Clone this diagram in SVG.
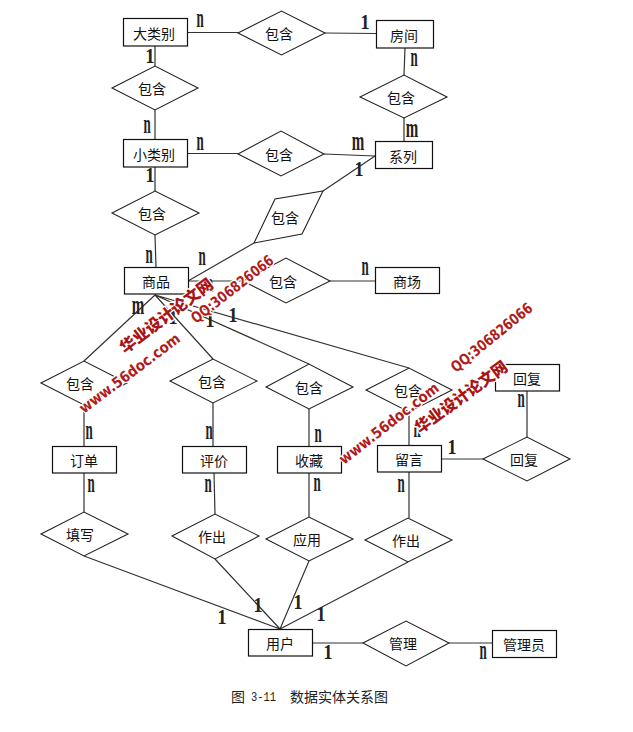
<svg xmlns="http://www.w3.org/2000/svg" width="633" height="732" viewBox="0 0 633 732">
<style>
.b{fill:#fff;stroke:#111;stroke-width:1.2}
.d{fill:#fff;stroke:#222;stroke-width:1.1}
.t{font-family:"Noto Sans CJK SC","Noto Sans CJK JP",sans-serif;font-size:14px;text-anchor:middle;fill:#111}
#connectors path{fill:none;stroke:#333;stroke-width:1.2}
.n,.m,.o{font-family:"Liberation Serif",serif;font-weight:700;fill:#222;font-size:20px;text-anchor:middle}
.w1{font-family:"Noto Sans CJK SC",sans-serif;font-weight:900;font-size:16px;fill:#a81414;stroke:#fff;stroke-width:2.5px;paint-order:stroke}
.w2{font-family:"DejaVu Sans",sans-serif;font-weight:700;font-size:15px;fill:#b01c1c;stroke:#fff;stroke-width:2.5px;paint-order:stroke}
.c{font-family:"Noto Sans CJK SC",sans-serif;font-size:14px;fill:#222}
.c2{font-family:"Liberation Mono",monospace;font-size:13px;fill:#222}
</style>
<rect width="633" height="732" fill="#fff"/>
<g id="connectors">
<path d="M187 32.500H238M325 33L376 33.500"/>
<path d="M155 46V66M155 110V139M155 167V191M155 235L156 267"/>
<path d="M405 48L404 75M404 118V141"/>
<path d="M187 153.500H238M324 154L375 156"/>
<path d="M188 281L254 243M323 191L375 156"/>
<path d="M188 281H247M330 281H375"/>
<path d="M155 295L84 361M155 295L213 359M155 295L309 364M155 295L409 368"/>
<path d="M84 405V447M213 403V447M309 409V447M409 412V446"/>
<path d="M84 473V512M214 473L215 514M309 473V517M409 472V518"/>
<path d="M527 391V437M441 459H483"/>
<path d="M84 556L280 629M215 559L280 629M309 561L280 629M408 562L280 629"/>
<path d="M313 643H363M449 643H492"/>
</g>
<g id="n-dalei"><rect class="b" x="123.500" y="18.500" width="64" height="27.500"/><text class="t" x="154" y="39">大类别</text></g>
<g id="n-fangjian"><rect class="b" x="376.500" y="20.500" width="57" height="27.500"/><text class="t" x="404" y="41">房间</text></g>
<g id="n-xiaolei"><rect class="b" x="123.500" y="139.500" width="64" height="27.500"/><text class="t" x="154" y="160">小类别</text></g>
<g id="n-xilie"><rect class="b" x="375.500" y="141.500" width="57" height="27"/><text class="t" x="403" y="162">系列</text></g>
<g id="n-shangpin"><rect class="b" x="124.500" y="267.500" width="64" height="26.500"/><text class="t" x="156" y="287">商品</text></g>
<g id="n-shangchang"><rect class="b" x="375.500" y="267.500" width="64" height="26"/><text class="t" x="407" y="287">商场</text></g>
<g id="n-dingdan"><rect class="b" x="52.500" y="446.500" width="64" height="26.500"/><text class="t" x="84" y="466">订单</text></g>
<g id="n-pingjia"><rect class="b" x="182.500" y="446.500" width="64" height="26.500"/><text class="t" x="214" y="466">评价</text></g>
<g id="n-shoucang"><rect class="b" x="277.500" y="446.500" width="64" height="26.500"/><text class="t" x="309" y="466">收藏</text></g>
<g id="n-liuyan"><rect class="b" x="377.500" y="445.500" width="64" height="26.500"/><text class="t" x="409" y="465">留言</text></g>
<g id="n-huifu-e"><rect class="b" x="495.500" y="364.500" width="64" height="26.500"/><text class="t" x="527" y="384">回复</text></g>
<g id="n-yonghu"><rect class="b" x="248.500" y="629.500" width="64" height="26.500"/><text class="t" x="280" y="649">用户</text></g>
<g id="n-guanliyuan"><rect class="b" x="492.500" y="630.500" width="64" height="27"/><text class="t" x="524" y="650">管理员</text></g>
<g id="r1"><polygon class="d" points="238,33 281.500,11 325,33 281.500,55"/><text class="t" x="279" y="39">包含</text></g>
<g id="r2"><polygon class="d" points="112,88 155,66 198,88 155,110"/><text class="t" x="152" y="94">包含</text></g>
<g id="r3"><polygon class="d" points="360,97 404,75 447,97 404,118"/><text class="t" x="401" y="103">包含</text></g>
<g id="r4"><polygon class="d" points="238,154 281,131 324,154 281,176"/><text class="t" x="279" y="160">包含</text></g>
<g id="r5"><polygon class="d" points="112,213 155,191 199,213 155,235"/><text class="t" x="152" y="219">包含</text></g>
<g id="r6"><polygon class="d" points="254,243 275,199 323,191 302,234"/><text class="t" x="285" y="223">包含</text></g>
<g id="r7"><polygon class="d" points="243,281 286,258 330,281 286,303"/><text class="t" x="283" y="287">包含</text></g>
<g id="r8"><polygon class="d" points="41,383 84,361 127,383 84,405"/><text class="t" x="80" y="389">包含</text></g>
<g id="r9"><polygon class="d" points="170,381 213,359 257,381 213,403"/><text class="t" x="212" y="387">包含</text></g>
<g id="r10"><polygon class="d" points="266,387 309,364 353,387 309,409"/><text class="t" x="309" y="393">包含</text></g>
<g id="r11"><polygon class="d" points="366,390 409,368 452,390 409,412"/><text class="t" x="408" y="396">包含</text></g>
<g id="r12"><polygon class="d" points="483,459 527,437 570,459 527,481"/><text class="t" x="524" y="465">回复</text></g>
<g id="r13"><polygon class="d" points="41,534 84,512 128,534 84,556"/><text class="t" x="80" y="540">填写</text></g>
<g id="r14"><polygon class="d" points="172,536 215,514 259,536 215,559"/><text class="t" x="212" y="542">作出</text></g>
<g id="r15"><polygon class="d" points="266,539 309,517 353,539 309,561"/><text class="t" x="307" y="545">应用</text></g>
<g id="r16"><polygon class="d" points="365,540 408,518 452,540 408,562"/><text class="t" x="406" y="546">作出</text></g>
<g id="r17"><polygon class="d" points="363,643 406,621 449,643 406,666"/><text class="t" x="403" y="649">管理</text></g>
<g id="cardinalities">
<text class="n" transform="translate(200 27) scale(.65 1.4)">n</text>
<text class="n" transform="translate(414 66) scale(.65 1.4)">n</text>
<text class="n" transform="translate(147 133) scale(.65 1.4)">n</text>
<text class="n" transform="translate(200 150) scale(.65 1.4)">n</text>
<text class="n" transform="translate(149 263) scale(.65 1.4)">n</text>
<text class="n" transform="translate(202 265) scale(.65 1.4)">n</text>
<text class="n" transform="translate(365 275) scale(.65 1.4)">n</text>
<text class="n" transform="translate(89 439) scale(.65 1.4)">n</text>
<text class="n" transform="translate(209 439) scale(.65 1.4)">n</text>
<text class="n" transform="translate(318 442) scale(.65 1.4)">n</text>
<text class="n" transform="translate(417 437) scale(.65 1.4)">n</text>
<text class="n" transform="translate(521 407) scale(.65 1.4)">n</text>
<text class="n" transform="translate(91 492) scale(.65 1.4)">n</text>
<text class="n" transform="translate(208 492) scale(.65 1.4)">n</text>
<text class="n" transform="translate(317 491) scale(.65 1.4)">n</text>
<text class="n" transform="translate(401 492) scale(.65 1.4)">n</text>
<text class="n" transform="translate(483 659) scale(.65 1.4)">n</text>
<text class="m" transform="translate(412 137) scale(.75 1.4)">m</text>
<text class="m" transform="translate(358 150) scale(.75 1.4)">m</text>
<text class="m" transform="translate(138 314) scale(.75 1.4)">m</text>
<text class="m" transform="translate(207 292) scale(.75 1.4)">m</text>
<text class="o" transform="translate(365 29) scale(.9 1)">1</text>
<text class="o" transform="translate(150 63) scale(.9 1)">1</text>
<text class="o" transform="translate(150 182) scale(.9 1)">1</text>
<text class="o" transform="translate(359 176) scale(.9 1)">1</text>
<text class="o" transform="translate(173 324) scale(.9 1)">1</text>
<text class="o" transform="translate(210 327) scale(.9 1)">1</text>
<text class="o" transform="translate(233 322) scale(.9 1)">1</text>
<text class="o" transform="translate(452 454) scale(.9 1)">1</text>
<text class="o" transform="translate(222 624) scale(.9 1)">1</text>
<text class="o" transform="translate(258 612) scale(.9 1)">1</text>
<text class="o" transform="translate(298 609) scale(.9 1)">1</text>
<text class="o" transform="translate(321 621) scale(.9 1)">1</text>
<text class="o" transform="translate(328 659) scale(.9 1)">1</text>
</g>
<g id="caption">
<text class="c" x="231" y="702">图</text>
<text class="c2" x="251" y="701" textLength="25" lengthAdjust="spacingAndGlyphs">3-11</text>
<text class="c" x="290" y="702">数据实体关系图</text>
</g>
<g id="watermark">
<text class="w1" transform="translate(125 354) rotate(-37)" textLength="112" lengthAdjust="spacingAndGlyphs">华业设计论文网</text>
<text class="w2" transform="translate(84 414) rotate(-37)" textLength="122" lengthAdjust="spacingAndGlyphs">www.56doc.com</text>
<text class="w2" transform="translate(196 324) rotate(-38)" textLength="100" lengthAdjust="spacingAndGlyphs">QQ:306826066</text>
<text class="w1" transform="translate(420 434) rotate(-36)" textLength="110" lengthAdjust="spacingAndGlyphs">华业设计论文网</text>
<text class="w2" transform="translate(344 465) rotate(-38)" textLength="122" lengthAdjust="spacingAndGlyphs">www.56doc.com</text>
<text class="w2" transform="translate(456 373) rotate(-39)" textLength="100" lengthAdjust="spacingAndGlyphs">QQ:306826066</text>
</g>
</svg>
